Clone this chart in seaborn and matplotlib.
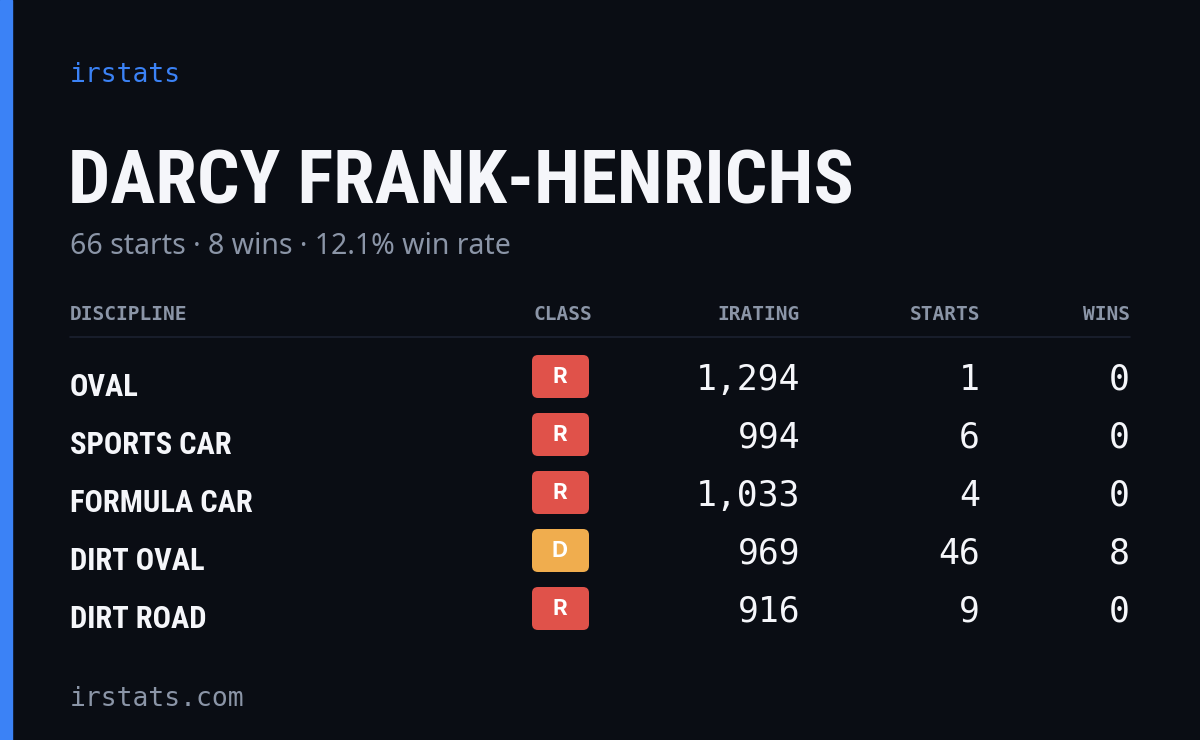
import matplotlib
matplotlib.use("Agg")
import matplotlib.pyplot as plt
import seaborn as sns
from matplotlib.patches import FancyBboxPatch, Rectangle

disciplines = ["OVAL", "SPORTS CAR", "FORMULA CAR", "DIRT OVAL", "DIRT ROAD"]
classes = ["R", "R", "R", "D", "R"]
iratings = [1294, 994, 1033, 969, 916]
starts = [1, 6, 4, 46, 9]
wins = [0, 0, 0, 8, 0]
headers = ["DISCIPLINE", "CLASS", "IRATING", "STARTS", "WINS"]
driver = "DARCY FRANK-HENRICHS"
summary = "66 starts · 8 wins · 12.1% win rate"

bg = "#0a0d14"
class_colors = {"R": "#e0524a", "D": "#f0ad4e"}
mono = "DejaVu Sans Mono"
narrow = ["Roboto Condensed", "Roboto", "DejaVu Sans"]

sns.set_theme(style="white")
fig = plt.figure(figsize=(12, 7.4), dpi=100, facecolor=bg)
ax = fig.add_axes([0, 0, 1, 1])
ax.set_facecolor(bg)
ax.set_xlim(0, 1200)
ax.set_ylim(740, 0)
ax.axis("off")

ax.add_patch(Rectangle((0, 0), 12, 740, color="#3b82f6"))
ax.text(70, 75, "irstats", color="#3b82f6", fontsize=19, family=mono, va="center")
ax.text(68, 184, driver, color="#f5f6fa", fontsize=54, weight="bold", family=narrow,
        stretch="condensed", va="center")
ax.text(70, 246, summary, color="#8b95a7", fontsize=20.5, family="Noto Sans", va="center")

hx = [70, 592, 800, 980, 1130]
ha = ["left", "right", "right", "right", "right"]
for x, h, a in zip(hx, headers, ha):
    ax.text(x, 315, h, color="#8b95a7", fontsize=14, weight="bold", family=mono, ha=a, va="center")
ax.plot([70, 1130], [337, 337], color="#1c2130", lw=1.2)

for i, d in enumerate(disciplines):
    y = 378 + i * 58
    ax.text(70, y + 9, d, color="#f5f6fa", fontsize=22, weight="bold", family=narrow,
            stretch="condensed", va="center")
    c = classes[i]
    ax.add_patch(FancyBboxPatch((532, y - 23), 57, 43, boxstyle="round,pad=0,rounding_size=6",
                                color=class_colors[c], lw=0))
    ax.text(560, y - 1, c, color="white", fontsize=16, weight="bold", family="Inter", ha="center", va="center")
    ax.text(800, y + 2, f"{iratings[i]:,}", color="#f5f6fa", fontsize=25, family=mono, ha="right", va="center")
    ax.text(980, y + 2, str(starts[i]), color="#f5f6fa", fontsize=25, family=mono, ha="right", va="center")
    ax.text(1130, y + 2, str(wins[i]), color="#f5f6fa", fontsize=25, family=mono, ha="right", va="center")

ax.text(70, 699, "irstats.com", color="#8b95a7", fontsize=19, family=mono, va="center")

fig.savefig("out.png", dpi=100, facecolor=bg)
